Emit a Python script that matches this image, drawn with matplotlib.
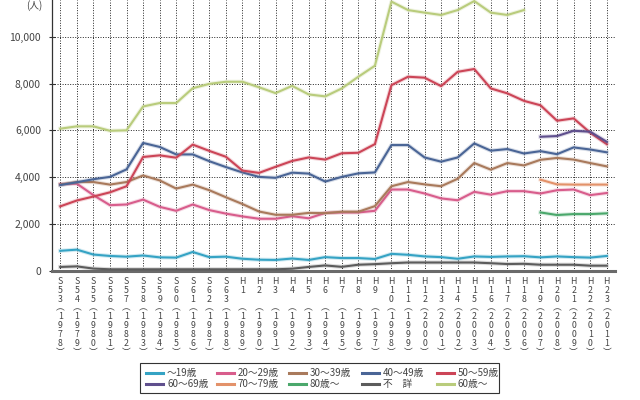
import numpy as np
import matplotlib
matplotlib.use('Agg')
import matplotlib.pyplot as plt
import matplotlib.patheffects as pe
from matplotlib.lines import Line2D
from matplotlib.patches import Rectangle
from matplotlib.ticker import FuncFormatter
from matplotlib.transforms import blended_transform_factory

plt.rcParams['font.family'] = ['Noto Sans CJK JP', 'DejaVu Sans']

# 年 (昭和53年～平成23年)
eras = ['S53', 'S54', 'S55', 'S56', 'S57', 'S58', 'S59', 'S60', 'S61', 'S62', 'S63',
        'H1', 'H2', 'H3', 'H4', 'H5', 'H6', 'H7', 'H8', 'H9', 'H10', 'H11', 'H12',
        'H13', 'H14', 'H15', 'H16', 'H17', 'H18', 'H19', 'H20', 'H21', 'H22', 'H23']
years = [str(y) for y in range(1978, 2012)]

age_19 = [850, 900, 690, 630, 600, 650, 570, 560, 800, 580, 600, 510, 470, 460, 520, 460, 580,
          540, 540, 500, 720, 680, 610, 580, 510, 610, 590, 610, 620, 570, 610, 580, 560, 630]
age_20s = [3700, 3720, 3230, 2800, 2830, 3040, 2730, 2560, 2830, 2590, 2440, 2320, 2220, 2220,
           2330, 2240, 2470, 2490, 2490, 2560, 3470, 3470, 3300, 3090, 3010, 3370, 3250, 3400,
           3400, 3300, 3440, 3470, 3230, 3320]
age_30s = [3680, 3790, 3790, 3680, 3790, 4070, 3860, 3510, 3680, 3440, 3140, 2850, 2530, 2390,
           2390, 2470, 2460, 2520, 2520, 2760, 3610, 3790, 3690, 3610, 3930, 4600, 4320, 4600,
           4500, 4740, 4820, 4750, 4600, 4460]
age_40s = [3660, 3780, 3910, 4010, 4330, 5460, 5290, 4970, 4970, 4680, 4430, 4200, 4010, 3970,
           4190, 4150, 3810, 4010, 4160, 4200, 5370, 5370, 4840, 4660, 4840, 5440, 5130, 5200,
           5010, 5110, 4980, 5270, 5180, 5060]
age_50s = [2750, 3000, 3170, 3350, 3610, 4860, 4930, 4830, 5390, 5120, 4870, 4280, 4180, 4440,
           4690, 4840, 4750, 5020, 5040, 5410, 7930, 8290, 8250, 7890, 8500, 8620, 7790, 7580,
           7260, 7070, 6410, 6510, 5900, 5410]
age_60s = [None] * 29 + [5725, 5755, 5980, 5940, 5510]
age_70s = [None] * 29 + [3890, 3690, 3680, 3680, 3680]
age_80 = [None] * 29 + [2490, 2380, 2420, 2420, 2450]
unknown = [160, 185, 90, 60, 60, 60, 60, 60, 60, 60, 60, 60, 60, 60, 85, 160, 225, 165, 255,
           280, 320, 350, 350, 350, 350, 350, 320, 285, 295, 255, 255, 255, 215, 215]
age_60up = [6070, 6170, 6170, 5980, 6000, 7020, 7165, 7165, 7800, 7985, 8075, 8075, 7840, 7590,
            7900, 7535, 7450, 7790, 8290, 8760, 11500, 11140, 11030, 10930, 11140, 11525, 11030,
            10930, 11140] + [None] * 5

labels = ['～19歳', '20～29歳', '30～39歳', '40～49歳', '50～59歳',
          '60～69歳', '70～79歳', '80歳～', '不　詳', '60歳～']
series = [age_19, age_20s, age_30s, age_40s, age_50s,
          age_60s, age_70s, age_80, unknown, age_60up]
colors = ['#35a3c4', '#d85d8c', '#a97a5c', '#4a6596', '#cc4557',
          '#5f4f8d', '#e3926a', '#4ba86c', '#5c5c5c', '#b9cc7c']

W, H = 640, 400
fig = plt.figure(figsize=(6.4, 4.0), dpi=100)
ax = fig.add_axes([52 / W, (H - 270.7) / H, 563 / W, 270.7 / H])

x = np.arange(len(eras))
ax.set_xlim(-0.5, 33.5)
ax.set_ylim(0, 11570)

# 点線グリッド
for xi in x:
    ax.axvline(xi, color='#222222', lw=0.7, ls=(0, (1, 1.6)), zorder=1)
for yv in range(2000, 11000, 2000):
    ax.axhline(yv, color='#222222', lw=0.7, ls=(0, (1, 1.6)), zorder=1)

for vals, c in zip(series, colors):
    v = np.array([np.nan if a is None else a for a in vals], dtype=float)
    ax.plot(x, v, color=c, lw=1.5, zorder=3, solid_joinstyle='round',
            path_effects=[pe.Stroke(linewidth=3.0, foreground=c, alpha=0.22), pe.Normal()])

for s in ['top', 'right']:
    ax.spines[s].set_visible(False)
ax.spines['left'].set_color('#333333')
ax.spines['left'].set_linewidth(0.9)
ax.spines['bottom'].set_color('#6a6a6a')
ax.spines['bottom'].set_linewidth(2.2)

ax.set_yticks(range(0, 11000, 2000))
ax.yaxis.set_major_formatter(FuncFormatter(lambda v, p: f'{int(v):,}'))
ax.tick_params(axis='y', direction='inout', length=4, width=0.8, color='#333333',
               labelsize=7.5, labelcolor='#444444', pad=6)
ax.set_xticks([])

fig.text(34 / W, 1.0, '(人)', fontsize=7, color='#444444', ha='center', va='top')

# 縦書きの年ラベル
tr = blended_transform_factory(ax.transData, fig.transFigure)
for xi, era, yr in zip(x, eras, years):
    num = era[1:]
    chars = [era[0], num[0], num[1] if len(num) > 1 else ' ', '︵'] + list(yr) + ['︶']
    ax.text(xi, 1 - 277 / H, '\n'.join(chars), transform=tr, fontsize=6.3, color='#444444',
            ha='center', va='top', linespacing=0.98, clip_on=False)

# 凡例
fig.add_artist(Rectangle((140 / W, 1 - 393 / H), 359 / W, 30 / H, transform=fig.transFigure,
                         fill=False, edgecolor='#333333', lw=0.8))
col_x = [146, 217, 289, 362, 437]
row_y = [373, 384]
for i, (lab, c) in enumerate(zip(labels, colors)):
    cx = col_x[i % 5]
    ry = 1 - row_y[i // 5] / H
    fig.add_artist(Line2D([cx / W, (cx + 17) / W], [ry, ry], transform=fig.transFigure,
                          color=c, lw=2.2))
    fig.text((cx + 21) / W, ry, lab, fontsize=7, color='#444444', ha='left', va='center')

fig.savefig('out.png', dpi=100)
